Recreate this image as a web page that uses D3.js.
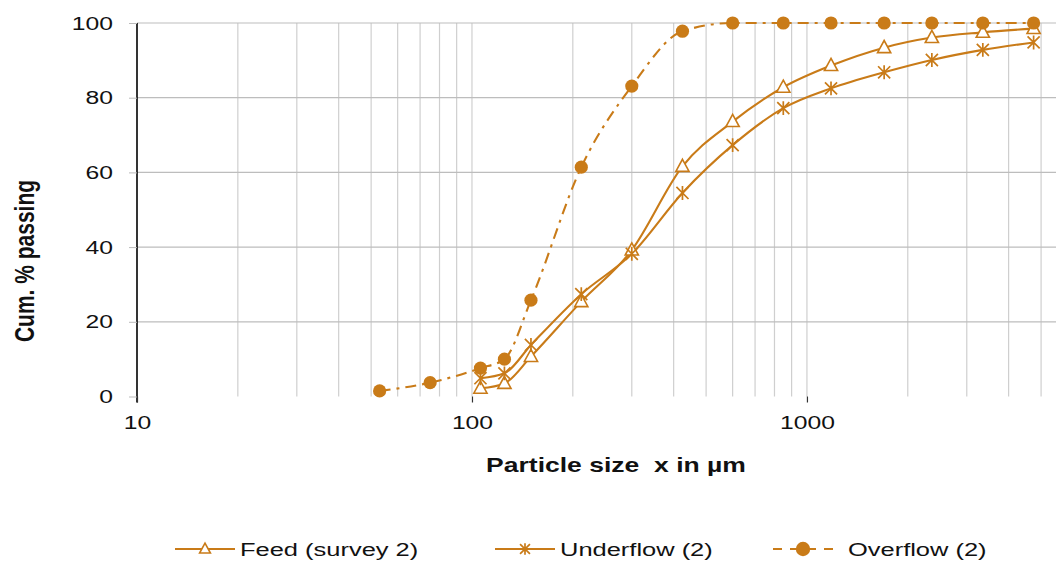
<!DOCTYPE html>
<html>
<head>
<meta charset="utf-8">
<script src="https://cdn.jsdelivr.net/npm/d3@7"></script>
<style>
  html, body { margin: 0; padding: 0; background: #fff; }
  svg { display: block; font-family: 'Liberation Sans', Arial, sans-serif; }
</style>
</head>
<body>
<div id="chart"></div>
<script>
// sieve sizes in µm
const sizes = [53, 75, 106, 125, 150, 212, 300, 425, 600, 850, 1180, 1700, 2360, 3350, 4750];
const feedSizes = sizes.slice(2);
const feed = [2.2, 3.5, 10.7, 25.4, 39.2, 61.6, 73.6, 82.8, 88.6, 93.4, 96.1, 97.5, 98.5];
const underflow = [4.9, 6.2, 13.8, 27.4, 38.2, 54.5, 67.3, 77.2, 82.5, 86.8, 90.1, 92.8, 94.8];
const overflow = [1.5, 3.7, 7.6, 10.0, 25.8, 61.4, 83.1, 97.8, 100, 100, 100, 100, 100, 100, 100];

const xTicks = [10, 100, 1000];
const yTicks = [0, 20, 40, 60, 80, 100];
const seriesNames = ['Feed (survey 2)', 'Underflow (2)', 'Overflow (2)'];

const orange = '#c97b18';
const stretch = 1.3; // the source picture is wider than tall in its text

const createGraph = () => {
  const width = 1056;
  const height = 561;

  const x = d3.scaleLog().domain([10, 5540]).range([137, 1056]);
  const y = d3.scaleLinear().domain([0, 100]).range([396.5, 23]);

  const svg = d3.select('#chart').append('svg')
    .attr('width', width)
    .attr('height', height);

  // vertical grid (1-9 of each decade)
  const gridX = [];
  [10, 100, 1000].forEach(dec => {
    for (let k = 1; k <= 9; k++) {
      const v = dec * k;
      if (v > 10 && v <= 5540) gridX.push(v);
    }
  });

  svg.append('g')
    .selectAll('line')
    .data(gridX)
    .enter().append('line')
    .attr('x1', d => x(d)).attr('x2', d => x(d))
    .attr('y1', y(100)).attr('y2', y(0))
    .attr('stroke', '#cfcfcf')
    .attr('stroke-width', 1.2);

  svg.append('g')
    .selectAll('line')
    .data(yTicks.filter(d => d > 0))
    .enter().append('line')
    .attr('x1', x(10)).attr('x2', 1056)
    .attr('y1', d => y(d)).attr('y2', d => y(d))
    .attr('stroke', '#bdbdbd')
    .attr('stroke-width', 1.2);

  // y axis
  const yAxis = svg.append('g')
    .attr('transform', `translate(${x(10)},0)`)
    .call(d3.axisLeft(y).tickValues(yTicks).tickSize(8));
  yAxis.select('.domain').attr('stroke', '#000').attr('stroke-width', 1.6)
    .attr('d', `M0,${y(100)}V${y(0) + 6}`);
  yAxis.selectAll('.tick line').attr('stroke', '#bbb');
  yAxis.selectAll('.tick text')
    .attr('x', -24 / stretch)
    .attr('transform', `scale(${stretch},1)`)
    .attr('fill', '#111')
    .style('font-size', '19px');

  // x axis (labels and small ticks only)
  const xAxis = svg.append('g')
    .attr('transform', `translate(0,${y(0)})`)
    .call(d3.axisBottom(x).tickValues(xTicks).tickFormat(d3.format('d')).tickSize(6).tickPadding(13));
  xAxis.select('.domain').remove();
  xAxis.selectAll('.tick line').attr('stroke', '#333').attr('stroke-width', 1.2);
  xAxis.selectAll('.tick text')
    .attr('transform', `scale(${stretch},1)`)
    .attr('fill', '#111')
    .style('font-size', '19px');

  // axis titles
  svg.append('text')
    .attr('transform', `translate(24,261) scale(${stretch},1) rotate(-90)`)
    .attr('text-anchor', 'middle')
    .attr('dy', '0.35em')
    .style('font-size', '21px')
    .style('font-weight', 'bold')
    .attr('fill', '#111')
    .text('Cum. % passing');

  svg.append('text')
    .attr('transform', `translate(616,472) scale(1.36,1)`)
    .attr('text-anchor', 'middle')
    .style('font-size', '19.5px')
    .style('font-weight', 'bold')
    .attr('fill', '#111')
    .attr('xml:space', 'preserve')
    .text('Particle size  x in µm');

  const line = d3.line()
    .x(d => x(d[0]))
    .y(d => y(d[1]))
    .curve(d3.curveMonotoneX);

  const series = [
    { name: seriesNames[0], pts: d3.zip(feedSizes, feed), marker: 'triangle', dash: null },
    { name: seriesNames[1], pts: d3.zip(feedSizes, underflow), marker: 'star', dash: null },
    { name: seriesNames[2], pts: d3.zip(sizes, overflow), marker: 'circle', dash: '11,6,3,6' }
  ];

  const drawMarker = (g, type, s) => {
    if (type === 'triangle') {
      g.append('path')
        .attr('d', `M0,${-s * 0.65}L${s * 0.6},${s * 0.45}L${-s * 0.6},${s * 0.45}Z`)
        .attr('fill', '#fff')
        .attr('stroke', orange)
        .attr('stroke-width', 1.6);
    } else if (type === 'star') {
      const r = s * 0.55;
      g.append('path')
        .attr('d', `M${-r},${-r}L${r},${r}M${-r},${r}L${r},${-r}M0,${-r * 1.15}V${r * 1.15}`)
        .attr('stroke', orange)
        .attr('stroke-width', 1.7)
        .attr('fill', 'none');
    } else {
      g.append('circle')
        .attr('r', s * 0.6)
        .attr('fill', orange);
    }
  };

  series.forEach(sr => {
    svg.append('path')
      .datum(sr.pts)
      .attr('d', line)
      .attr('fill', 'none')
      .attr('stroke', orange)
      .attr('stroke-width', 2.1)
      .attr('stroke-dasharray', sr.dash);
  });

  series.forEach(sr => {
    svg.append('g')
      .selectAll('g')
      .data(sr.pts)
      .enter().append('g')
      .attr('transform', d => `translate(${x(d[0])},${y(d[1])})`)
      .each(function () { drawMarker(d3.select(this), sr.marker, 11); });
  });

  // legend
  const legendX = [175, 495, 773];
  const legend = svg.append('g')
    .selectAll('g')
    .data(series)
    .enter().append('g')
    .attr('transform', (d, i) => `translate(${legendX[i]},549)`);

  legend.append('line')
    .attr('x1', 0).attr('x2', 60)
    .attr('stroke', orange)
    .attr('stroke-width', 2.2)
    .attr('stroke-dasharray', d => d.dash ? '9,8' : null);

  legend.append('g')
    .attr('transform', 'translate(30,0)')
    .each(function (d) { drawMarker(d3.select(this), d.marker, d.marker === 'circle' ? 12 : 9); });

  legend.append('text')
    .attr('transform', (d, i) => `translate(${i === 2 ? 75 : 65},0) scale(1.34,1)`)
    .attr('dy', '0.35em')
    .style('font-size', '19px')
    .attr('fill', '#111')
    .text(d => d.name);
};

createGraph();
</script>
</body>
</html>
